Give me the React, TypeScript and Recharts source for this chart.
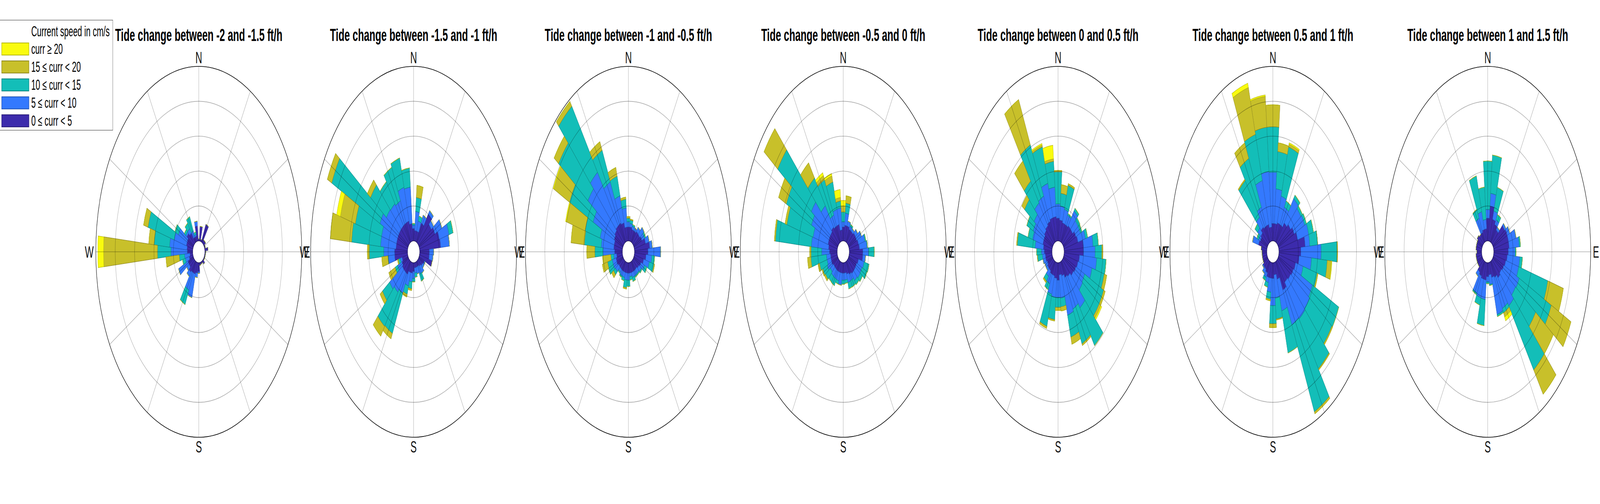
import React from 'react';
import {
  RadialBarChart,
  RadialBar,
  PolarAngleAxis,
  PolarRadiusAxis,
  PolarGrid
} from 'recharts';

// Direction bins (degrees clockwise from North), 10 deg wide
const DIRS = [
  0, 10, 20, 30, 40, 50, 60, 70, 80, 90, 100, 110,
  120, 130, 140, 150, 160, 170, 180, 190, 200, 210, 220, 230,
  240, 250, 260, 270, 280, 290, 300, 310, 320, 330, 340, 350
];

// Speed classes, inner to outer
const CLASS_KEYS = ['s0', 's1', 's2', 's3', 's4'];
const CLASS_LABELS = [
  '0 \u2264 curr < 5',
  '5 \u2264 curr < 10',
  '10 \u2264 curr < 15',
  '15 \u2264 curr < 20',
  'curr \u2265 20'
];
const CLASS_FILLS = ['#3C2BAC', '#3479FE', '#13BEB8', '#C8C02A', '#F9FB0E'];
const CLASS_STROKES = ['#2A1E7A', '#2456B5', '#0D8782', '#8E881E', '#B5B70A'];

const TITLES = [
  'Tide change between -2 and -1.5 ft/h',
  'Tide change between -1.5 and -1 ft/h',
  'Tide change between -1 and -0.5 ft/h',
  'Tide change between -0.5 and 0 ft/h',
  'Tide change between 0 and 0.5 ft/h',
  'Tide change between 0.5 and 1 ft/h',
  'Tide change between 1 and 1.5 ft/h'
];

// Frequency rings (radius axis ticks)
const RINGS = [0, 1, 2, 3, 4, 5];

// Each row: cumulative frequency reached by each speed class, for DIRS[i]
// (classes absent from a row add nothing)
const P1 = [
  [0.43, 0.57], [0.06], [0.42], [0.06], [0.56], [0.11], [0.12], [0.05], [0.05],
  [0.17], [0.05], [0.04], [0.04], [0.04], [0.04], [0.12], [0.05], [0.06],
  [0.08], [0.25, 0.3], [0.3, 0.43], [0.35, 1.05], [0.35, 0.9, 1.36], [0.4, 0.55],
  [0.3, 0.45], [0.3, 0.84], [0.2, 0.4, 0.56], [0.15, 0.43, 0.7, 1.39],
  [0.28, 1.12, 1.82, 4.6, 4.9], [0.3, 1.2, 2.0, 2.28], [0.35, 1.0, 2.4, 2.64],
  [0.35, 0.85, 1.05], [0.43, 0.5, 0.6], [0.35, 0.5, 0.69], [0.15, 0.35, 0.8],
  [0.15, 0.2, 0.28]
];

const P2 = [
  [0.5, 1.55, 2.1], [0.35, 0.45, 0.5], [0.3, 0.85, 1.25, 1.6], [0.3, 0.6, 0.75],
  [0.6, 0.85], [1.0, 1.13], [0.8, 0.95], [0.9, 1.3], [1.06, 1.58, 1.8],
  [1.09, 1.55], [0.5, 0.73], [0.5, 0.7], [0.68], [0.3, 0.35], [0.25, 0.35],
  [0.2, 0.44], [0.15, 0.4, 0.62], [0.15, 0.35], [0.15, 0.3, 0.42],
  [0.25, 0.45, 0.55], [0.3, 0.55, 0.75, 0.8], [0.3, 0.7, 0.95, 1.03],
  [0.4, 1.0, 2.27, 2.44], [0.4, 1.1, 2.3, 2.64], [0.4, 1.2, 1.65, 1.8],
  [0.35, 0.6, 0.74, 1.1], [0.3, 0.4, 0.5, 0.55], [0.67, 1.0, 1.02, 1.34],
  [0.67, 1.23, 1.97, 2.08], [0.6, 1.4, 2.9, 4.0], [0.6, 1.4, 2.8, 3.6, 3.8],
  [0.6, 1.6, 4.35, 4.6], [0.6, 1.4, 2.4, 2.6], [0.6, 1.37, 2.14],
  [0.6, 1.3, 2.36], [0.6, 1.6, 2.47]
];

const P3 = [
  [0.4, 0.95, 1.2, 1.26], [0.4, 0.55, 0.65, 0.7], [0.4, 0.5, 0.6, 0.63],
  [0.35, 0.45, 0.5], [0.35, 0.45], [0.4, 0.55], [0.4, 0.68], [0.45, 0.6, 0.67],
  [0.6, 0.8], [0.79, 0.93], [0.7, 1.36], [0.6, 0.9, 1.05], [0.5, 0.8, 1.05, 1.09],
  [0.4, 0.6, 0.74], [0.35, 0.5, 0.55], [0.3, 0.45, 0.5], [0.3, 0.45, 0.5],
  [0.3, 0.45, 0.57], [0.3, 0.4, 0.5], [0.3, 0.5, 0.68], [0.3, 0.5, 0.72, 0.76],
  [0.3, 0.45, 0.55], [0.3, 0.45, 0.5], [0.3, 0.4, 0.45], [0.3, 0.5, 0.62, 0.74],
  [0.35, 0.55, 0.82], [0.35, 0.55, 0.8, 1.08], [0.3, 0.45, 0.6, 1.03],
  [0.4, 1.0, 1.42, 1.84], [0.45, 1.1, 1.97, 2.66], [0.45, 1.2, 2.0, 3.0, 3.05],
  [0.5, 1.7, 3.04, 3.94, 3.98], [0.55, 2.24, 4.09, 4.37], [0.6, 2.47, 4.78, 4.95],
  [0.6, 1.9, 2.9, 3.17], [0.55, 1.35, 1.93, 2.19]
];

const P4 = [
  [0.32, 0.95, 1.15, 1.25, 1.48], [0.4, 0.55, 0.83, 1.0, 1.16], [0.45, 0.8, 1.09, 1.3],
  [0.45, 0.6], [0.4, 0.5, 0.56], [0.4, 0.5], [0.45, 0.6], [0.45, 0.73],
  [0.5, 0.85, 0.9], [0.53, 0.92, 0.95], [0.7, 1.0, 1.29], [0.7, 0.85],
  [0.5, 0.8, 1.07], [0.45, 0.75, 1.04], [0.45, 0.75, 0.9], [0.45, 0.7, 0.84],
  [0.4, 0.6, 0.8], [0.35, 0.6, 0.79], [0.3, 0.5, 0.6], [0.3, 0.5, 0.62],
  [0.3, 0.65], [0.3, 0.55, 0.65], [0.3, 0.55, 0.76], [0.3, 0.55, 0.75],
  [0.3, 0.5, 0.8, 0.87], [0.35, 0.6, 0.85, 0.9], [0.35, 0.55, 0.95, 1.04],
  [0.35, 0.56, 1.36, 1.54], [0.4, 0.8, 1.35, 1.42], [0.45, 1.34, 3.2, 3.26],
  [0.5, 1.3, 2.7, 2.8], [0.5, 1.5, 2.93, 3.37], [0.5, 1.7, 3.82, 4.68],
  [0.55, 1.3, 2.27, 2.8], [0.5, 0.85, 1.97, 2.1, 2.19], [0.5, 0.95, 1.76, 1.94, 2.01]
];

const P5 = [
  [0.7, 1.55, 2.29, 2.36, 2.75], [0.65, 1.06, 1.98, 2.02], [0.6, 1.0, 1.37, 1.62],
  [0.55, 0.95, 1.66, 1.71], [0.55, 0.85, 0.9], [0.6, 1.12, 1.21], [0.6, 0.95, 1.07],
  [0.7, 0.95, 1.05], [0.75, 1.15, 1.27], [1.0, 1.5, 1.78], [1.0, 1.6, 1.95, 2.0],
  [0.8, 1.69, 2.18], [0.75, 1.5, 2.15, 2.29], [0.7, 1.2, 2.28, 2.37],
  [0.65, 1.23, 2.28, 2.38, 2.44], [0.55, 1.65, 2.97], [0.5, 1.5, 2.6, 2.65],
  [0.4, 1.57, 2.22, 2.43], [0.35, 1.02, 1.27, 1.39], [0.5, 1.0, 1.28, 1.37],
  [0.45, 1.0, 1.64, 1.68], [0.4, 0.95, 1.9, 1.96], [0.4, 0.7, 0.89],
  [0.35, 0.55, 0.72, 0.77], [0.35, 0.45], [0.3, 0.45], [0.35, 0.5],
  [0.35, 0.5, 0.75, 0.77], [0.4, 0.55, 0.8], [0.45, 0.88, 1.8, 1.84],
  [0.5, 1.05, 1.3], [0.5, 1.1, 1.47], [0.55, 1.2, 1.8, 1.97], [0.6, 1.4, 2.16, 2.86],
  [0.65, 1.45, 3.07, 4.5], [0.7, 1.72, 2.8, 2.86, 2.9]
];

const P6 = [
  [0.4, 2.0, 3.27, 4.16, 4.2], [0.5, 1.97, 3.27, 3.9], [0.5, 1.5, 2.57, 2.82],
  [0.55, 1.34, 2.8, 2.88, 2.92], [0.55, 1.1, 1.3], [0.7, 1.55, 1.67], [0.8, 1.45, 1.55],
  [0.9, 1.5, 1.6], [1.0, 1.6, 1.86], [1.36, 1.6, 2.01], [1.13, 2.18, 3.0, 3.03],
  [1.05, 1.69, 2.5, 2.72, 2.75], [0.9, 1.3, 2.05, 2.1], [0.85, 1.94, 3.44],
  [0.8, 2.0, 3.4, 3.45], [0.75, 2.04, 3.78, 3.82], [0.9, 2.0, 4.75, 4.81],
  [0.5, 1.44, 2.69], [0.35, 1.02, 1.62, 1.65], [0.45, 1.23, 1.75, 1.86],
  [0.45, 0.85, 1.05, 1.1], [0.45, 0.6, 0.74], [0.35, 0.5, 0.6], [0.3, 0.45],
  [0.3, 0.35], [0.25], [0.25], [0.25], [0.25], [0.3], [0.45, 0.78], [0.4, 0.5, 0.6],
  [0.45, 0.65, 0.82], [0.55, 0.9, 2.18, 2.22], [0.5, 1.1, 2.64, 3.13],
  [0.5, 1.8, 3.17, 4.56, 4.69]
];

const P7 = [
  [0.35, 0.62, 1.55], [0.65, 0.9, 2.29], [1.0, 1.37, 2.47], [0.65, 0.9, 1.6],
  [0.55, 0.7, 0.87], [0.45, 0.55], [0.75, 0.84], [0.8, 0.95], [0.8, 1.21],
  [0.8, 1.32, 1.39], [0.75, 1.1, 1.15], [0.7, 1.35, 1.49], [0.65, 1.34, 2.9, 3.73],
  [0.6, 1.48, 3.31, 4.43], [0.55, 1.44, 2.71, 3.82], [0.6, 1.58, 3.82, 4.67],
  [0.5, 1.48, 1.62, 1.75, 1.87], [0.45, 1.55, 1.61], [0.35, 0.63, 0.66],
  [0.4, 0.55, 0.6], [0.5, 1.06, 1.81], [0.5, 1.05, 1.27], [0.45, 1.0, 1.05],
  [0.4, 0.55], [0.3], [0.3], [0.3], [0.3], [0.25], [0.3], [0.3], [0.3], [0.35],
  [0.3], [0.3, 0.75, 1.03], [0.35, 0.88, 1.94]
];

const PANELS = [P1, P2, P3, P4, P5, P6, P7];

const FONT = '"Liberation Sans", Arial, Helvetica, sans-serif';
const PAGE_W = 7381;
const PAGE_H = 1291;
const CHART_W = 1100;
const CHART_H = 1291;
const CX = CHART_W / 2;
const CY = 645;
const INNER_R = 28;
const OUTER_R = 475;
const FIRST_CENTER = 917;
const CENTER_STEP = 991;

// radial grid spokes every 30 deg (recharts angles: 90 = north, clockwise negative)
const SPOKES = DIRS.filter((d) => d % 30 === 0).map((d) => 90 - d);

const COMPASS: Record<number, string> = { 0: 'N', 90: 'E', 180: 'S', 270: 'W' };

function buildRows(tops: number[][]) {
  return DIRS.map((dir, i) => {
    const t = tops[i];
    const row: Record<string, number> = { dir };
    let prev = 0;
    CLASS_KEYS.forEach((k, j) => {
      const cur = t[Math.min(j, t.length - 1)];
      row[k] = Math.max(0, Math.round((cur - prev) * 1000) / 1000);
      prev = cur;
    });
    return row;
  });
}

const CompassTick = (props: any) => {
  const dir = Number(props.payload?.value);
  const label = COMPASS[dir];
  if (!label) return <g />;
  const rad = (dir * Math.PI) / 180;
  const gap = dir % 180 === 0 ? 8 : 10;
  const x = CX + (OUTER_R + gap) * Math.sin(rad);
  const y = CY - (OUTER_R + gap) * Math.cos(rad);
  let anchor = 'middle';
  let dy = '0.36em';
  if (dir === 0) dy = '0';
  if (dir === 180) dy = '0.72em';
  if (dir === 90) anchor = 'start';
  if (dir === 270) anchor = 'end';
  return (
    <text x={x} y={y} dy={dy} textAnchor={anchor} fontSize={43} fontFamily={FONT} fill="#111">
      {label}
    </text>
  );
};

const Rose = ({ tops, title, index }: { tops: number[][]; title: string; index: number }) => {
  const rows = buildRows(tops);
  const left = FIRST_CENTER + CENTER_STEP * index - CX;
  return (
    <div style={{ position: 'absolute', left, top: 0, width: CHART_W, height: CHART_H }}>
      <div
        style={{
          position: 'absolute',
          left: 0,
          top: 67,
          width: '100%',
          textAlign: 'center',
          fontFamily: FONT,
          fontWeight: 'bold',
          fontSize: 45,
          lineHeight: '45px',
          whiteSpace: 'nowrap',
          color: '#000'
        }}
      >
        {title}
      </div>
      <RadialBarChart
        width={CHART_W}
        height={CHART_H}
        data={rows}
        layout="centric"
        cx={CX}
        cy={CY}
        innerRadius={INNER_R}
        outerRadius={OUTER_R}
        startAngle={95}
        endAngle={-265}
        barCategoryGap={0}
        barGap={0}
        margin={{ top: 0, right: 0, bottom: 0, left: 0 }}
      >
        <PolarAngleAxis
          type="category"
          dataKey="dir"
          axisLineType="circle"
          axisLine={{ stroke: '#000', strokeWidth: 1.6 }}
          tickLine={false}
          tick={CompassTick}
        />
        <PolarRadiusAxis type="number" domain={[0, 5]} ticks={RINGS} tick={false} axisLine={false} />
        {CLASS_KEYS.map((k, j) => (
          <RadialBar
            key={k}
            dataKey={k}
            stackId="speed"
            fill={CLASS_FILLS[j]}
            stroke={CLASS_STROKES[j]}
            strokeWidth={1.2}
            isAnimationActive={false}
          />
        ))}
        <PolarGrid
          gridType="circle"
          polarAngles={SPOKES}
          stroke="#000"
          strokeOpacity={0.32}
          strokeWidth={1.6}
          zIndex={1000}
        />
      </RadialBarChart>
    </div>
  );
};

const LEGEND_ROWS = [4, 3, 2, 1, 0];

const SpeedLegend = () => (
  <div
    style={{
      position: 'absolute',
      left: -2,
      top: 51,
      width: 523,
      height: 283,
      border: '1.5px solid #262626',
      boxSizing: 'border-box',
      background: '#fff',
      fontFamily: FONT,
      fontSize: 37,
      color: '#000'
    }}
  >
    <div style={{ position: 'absolute', left: 145, top: 6, lineHeight: '46px', whiteSpace: 'nowrap' }}>
      Current speed in cm/s
    </div>
    {LEGEND_ROWS.map((j, r) => (
      <div key={j} style={{ position: 'absolute', left: 0, top: 51 + 46 * r, height: 46, width: '100%' }}>
        <div
          style={{
            position: 'absolute',
            left: 8,
            top: 6,
            width: 127,
            height: 33,
            boxSizing: 'border-box',
            background: CLASS_FILLS[j],
            border: `2px solid ${CLASS_STROKES[j]}`
          }}
        />
        <div style={{ position: 'absolute', left: 145, top: 0, lineHeight: '46px', whiteSpace: 'nowrap' }}>
          {CLASS_LABELS[j]}
        </div>
      </div>
    ))}
  </div>
);

export default function App() {
  // the browser may clamp the window narrower than the figure: squeeze it to fit the width
  const scaleX = typeof window !== 'undefined' ? Math.min(1, window.innerWidth / PAGE_W) : 1;
  return (
    <div
      style={{
        position: 'absolute',
        left: 0,
        top: 0,
        width: PAGE_W,
        height: PAGE_H,
        background: '#fff',
        overflow: 'hidden',
        transformOrigin: '0 0',
        transform: `scale(${scaleX}, 1)`
      }}
    >
      {PANELS.map((tops, i) => (
        <Rose key={i} tops={tops} title={TITLES[i]} index={i} />
      ))}
      <SpeedLegend />
    </div>
  );
}
